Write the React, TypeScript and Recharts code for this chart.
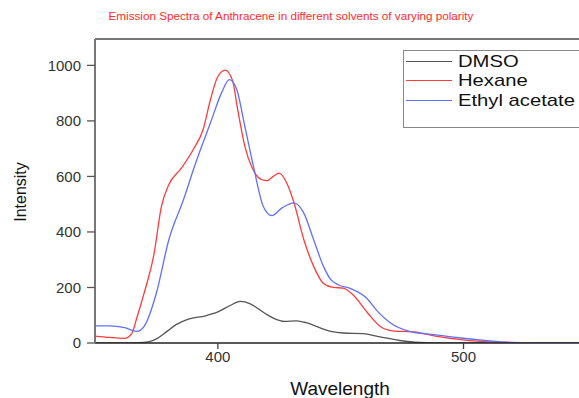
import React from "react";
import { LineChart, Line, XAxis, YAxis, Legend, ReferenceLine } from "recharts";

const dmsoWl = [350, 360, 368, 372, 375, 379, 383, 388, 395, 400, 405, 409, 413, 416, 420, 423, 427, 432, 436, 440, 446, 451, 459, 466, 474, 482, 495, 547];
const dmsoVals = [0, 0, 1, 5, 15, 40, 66, 86, 98, 112, 135, 150, 142, 126, 102, 88, 78, 80, 73, 60, 42, 36, 34, 22, 9, 2, 0, 0];

const hexaneWl = [350, 356, 362, 365, 367, 370, 374, 377, 380, 385, 390, 394, 397, 400, 403, 406, 408, 411, 414, 418, 420, 422.5, 425, 428, 431, 435, 439, 443, 447, 451, 455, 461, 466, 471, 480, 488, 499, 510, 547];
const hexaneVals = [25, 20, 17, 35, 90, 180, 320, 490, 570, 628, 697, 769, 877, 960, 983, 945, 845, 708, 630, 588, 585, 600, 612, 577, 505, 372, 276, 214, 200, 198, 174, 108, 60, 44, 40, 26, 12, 4, 0];

const ethylWl = [350, 356, 362, 367, 370, 375, 380, 386, 391, 397, 401.5, 404.7, 407.7, 411, 414.5, 418.5, 422, 426, 431, 435, 439, 443, 446, 449, 454, 460.5, 465, 470, 478, 488, 499, 509, 515, 530, 547];
const ethylVals = [62, 62, 55, 42, 60, 180, 370, 516, 649, 793, 901, 949, 913, 780, 636, 492, 459, 486, 505, 468, 372, 276, 228, 210, 196, 162, 114, 74, 42, 30, 18, 9, 4, 0, 0];

const xTicks = [400, 500];
const yTicks = [0, 200, 400, 600, 800, 1000];
const xDomain = [350, 547];
const yMax = 1095;

const seriesNames = ["DMSO", "Hexane", "Ethyl acetate"];
const seriesColors = ["#555555", "#ff3b3b", "#5f70ff"];

const toData = (wl: number[], vals: number[]) => wl.map((w, i) => ({ wl: w, v: vals[i] }));
const dmsoData = toData(dmsoWl, dmsoVals);
const hexaneData = toData(hexaneWl, hexaneVals);
const ethylData = toData(ethylWl, ethylVals);

const FONT = "'Liberation Sans', Arial, sans-serif";

const renderLegend = (props: any) => {
  const payload = [...(props.payload || [])].sort(
    (a: any, b: any) => seriesNames.indexOf(a.value) - seriesNames.indexOf(b.value)
  );
  return (
    <div
      style={{
        border: "1px solid #888",
        borderRight: "none",
        width: 176,
        height: 78,
        boxSizing: "border-box",
        paddingTop: 1,
        fontFamily: FONT,
      }}
    >
      {payload.map((p: any) => (
        <div key={p.value} style={{ display: "flex", alignItems: "center", height: 19.3 }}>
          <div style={{ width: 46, marginLeft: 2, borderTop: `1.3px solid ${p.color}` }} />
          <div
            style={{
              marginLeft: 6,
              fontSize: 17,
              color: "#111",
              transform: "scaleX(1.19)",
              transformOrigin: "left center",
              whiteSpace: "nowrap",
              lineHeight: "19px",
            }}
          >
            {p.value}
          </div>
        </div>
      ))}
    </div>
  );
};

const YLabel = (props: any) => {
  const vb = props.viewBox || { y: 39, height: 304 };
  const cx = 20;
  const cy = vb.y + vb.height / 2 + 1;
  return (
    <text
      x={cx}
      y={cy}
      transform={`rotate(-90 ${cx} ${cy})`}
      textAnchor="middle"
      dominantBaseline="central"
      fontFamily={FONT}
      fontSize={16}
      fill="#111"
    >
      Intensity
    </text>
  );
};

const XLabel = (props: any) => {
  const vb = props.viewBox || { x: 95, width: 484 };
  const cx = vb.x + vb.width / 2 + 3;
  return (
    <text x={cx} y={395} textAnchor="middle" fontFamily={FONT} fontSize={19} fill="#111">
      Wavelength
    </text>
  );
};

export default function App() {
  return (
    <div style={{ position: "absolute", left: 0, top: 0, width: 579, height: 398, background: "#fff" }}>
      <div
        style={{
          position: "absolute",
          left: 0,
          top: 9,
          width: 582,
          textAlign: "center",
          fontFamily: FONT,
          fontSize: 11.7,
          color: "#ff2a2a",
          zIndex: 2,
        }}
      >
        Emission Spectra of Anthracene in different solvents of varying polarity
      </div>
      <LineChart width={579} height={398} margin={{ top: 39, right: 0, left: 0, bottom: 0 }}>
        <XAxis
          type="number"
          dataKey="wl"
          domain={xDomain}
          allowDataOverflow
          ticks={xTicks}
          height={55}
          tickSize={6}
          tickMargin={2}
          tick={{ fontFamily: FONT, fontSize: 15, fill: "#333" }}
          tickLine={{ stroke: "#444", strokeWidth: 1.3 }}
          axisLine={{ stroke: "#222", strokeWidth: 1.5 }}
          label={<XLabel />}
        />
        <YAxis
          type="number"
          domain={[0, yMax]}
          allowDataOverflow
          ticks={yTicks}
          width={95}
          tickSize={8}
          tickMargin={6}
          tick={{ fontFamily: FONT, fontSize: 15, fill: "#333" }}
          tickLine={{ stroke: "#555", strokeWidth: 1.3 }}
          axisLine={{ stroke: "#777", strokeWidth: 2 }}
          label={<YLabel />}
        />
        <ReferenceLine y={yMax} stroke="#777" strokeWidth={2} ifOverflow="visible" />
        <Legend
          layout="horizontal"
          verticalAlign="middle"
          align="center"
          content={renderLegend}
          wrapperStyle={{ position: "absolute", left: 403, top: 50, width: 176 }}
        />
        <Line data={dmsoData} dataKey="v" name={seriesNames[0]} stroke={seriesColors[0]} strokeWidth={1.3} dot={false} type="monotone" isAnimationActive={false} />
        <Line data={hexaneData} dataKey="v" name={seriesNames[1]} stroke={seriesColors[1]} strokeWidth={1.3} dot={false} type="monotone" isAnimationActive={false} />
        <Line data={ethylData} dataKey="v" name={seriesNames[2]} stroke={seriesColors[2]} strokeWidth={1.3} dot={false} type="monotone" isAnimationActive={false} />
      </LineChart>
    </div>
  );
}
